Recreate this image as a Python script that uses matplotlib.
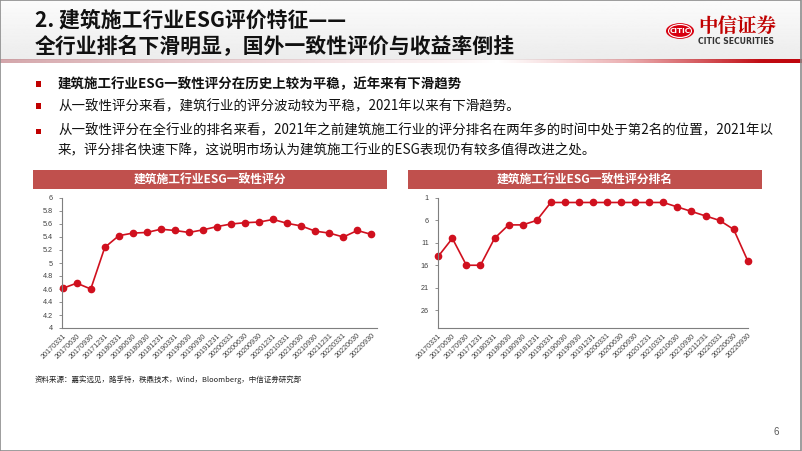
import numpy as np
import matplotlib
matplotlib.use("Agg")
import matplotlib.pyplot as plt
from matplotlib.patches import Rectangle, Circle
from matplotlib.ticker import FuncFormatter

plt.rcParams['font.family'] = ['Noto Sans CJK SC', 'DejaVu Sans']

# ==========================================================
# DATA
# ==========================================================

dates = [
    "20170331", "20170630", "20170930", "20171231",
    "20180331", "20180630", "20180930", "20181231",
    "20190331", "20190630", "20190930", "20191231",
    "20200331", "20200630", "20200930", "20201231",
    "20210331", "20210630", "20210930", "20211231",
    "20220331", "20220630", "20220930",
]

score = [
    4.61, 4.69, 4.60, 5.24,
    5.42, 5.46, 5.47, 5.52,
    5.50, 5.47, 5.51, 5.56,
    5.60, 5.62, 5.63, 5.67,
    5.61, 5.57, 5.49, 5.46,
    5.40, 5.50, 5.44,
]

rank = [
    14, 10, 16, 16,
    10, 7, 7, 6,
    2, 2, 2, 2,
    2, 2, 2, 2,
    2, 3, 4, 5,
    6, 8, 15,
]

score_ticks = [4.0, 4.2, 4.4, 4.6, 4.8, 5.0, 5.2, 5.4, 5.6, 5.8, 6.0]
rank_ticks = [1, 6, 11, 16, 21, 26]

title_1 = "2. 建筑施工行业ESG评价特征——"
title_2 = "全行业排名下滑明显，国外一致性评价与收益率倒挂"

bullets = [
    ("建筑施工行业ESG一致性评分在历史上较为平稳，近年来有下滑趋势", True),
    ("从一致性评分来看，建筑行业的评分波动较为平稳，2021年以来有下滑趋势。", False),
    ("从一致性评分在全行业的排名来看，2021年之前建筑施工行业的评分排名在两年多的时间中处于第2名的位置，2021年以\n"
     "来，评分排名快速下降，这说明市场认为建筑施工行业的ESG表现仍有较多值得改进之处。", False),
]

chart_titles = ["建筑施工行业ESG一致性评分", "建筑施工行业ESG一致性评分排名"]

source = "资料来源：嘉实远见，路孚特，秩鼎技术，Wind，Bloomberg，中信证券研究部"

# ==========================================================
# FIGURE
# ==========================================================

W, H = 802, 451
fig = plt.figure(figsize=(W / 100, H / 100), dpi=100)


def fx(x):
    return x / W


def fy(y):
    return 1 - y / H


RED = "#d0101e"
BAR = "#c0504d"

# ----------------------------------------------------------
# header background + gradient line
# ----------------------------------------------------------

ax_bg = fig.add_axes([0, fy(60), 1, 60 / H], zorder=0)
grad = np.linspace(0.985, 0.925, 64).reshape(-1, 1)
ax_bg.imshow(np.repeat(grad, 2, axis=1), cmap="gray", vmin=0, vmax=1,
             aspect="auto", extent=[0, 1, 0, 1], origin="upper")
ax_bg.axis("off")

ax_ln = fig.add_axes([0, fy(63), 1, 3.5 / H], zorder=1)
xs = np.linspace(0, 1, 400)
alpha = np.interp(xs, [0, 0.5, 0.62, 0.78, 0.95, 1], [0.6, 0.15, 0.0, 0.35, 1.0, 1.0])
r = np.interp(xs, [0, 0.5, 0.62, 1], [0.72, 0.85, 0.8, 0.75])
g = np.interp(xs, [0, 0.5, 0.62, 1], [0.42, 0.55, 0.2, 0.02])
b = np.interp(xs, [0, 0.5, 0.62, 1], [0.45, 0.58, 0.22, 0.05])
rgba = np.stack([r, g, b, alpha], axis=1)[None, :, :]
ax_ln.imshow(rgba, aspect="auto", extent=[0, 1, 0, 1])
ax_ln.axis("off")

fig.text(fx(35), fy(20), title_1, fontsize=15, fontweight="bold",
         va="center", ha="left", color="#111111")
fig.text(fx(35), fy(47), title_2, fontsize=15, fontweight="bold",
         va="center", ha="left", color="#111111")

# logo
fig.patches.append(Circle((fx(680), fy(31)), 14 / W, transform=fig.transFigure,
                          facecolor="#d7000f", edgecolor="none", zorder=3))
fig.patches.append(Circle((fx(680), fy(31)), 11.5 / W, transform=fig.transFigure,
                          facecolor="none", edgecolor="white", lw=0.8, zorder=4))
fig.text(fx(680), fy(31), "CITIC", fontsize=5.2, fontweight="bold", color="white",
         ha="center", va="center", family=["Liberation Sans Narrow", "DejaVu Sans"], zorder=5)
fig.text(fx(698), fy(26), "中信证券", fontsize=14, fontweight="bold",
         color="#c00000", ha="left", va="center", family=["Noto Serif CJK SC", "Noto Sans CJK SC"])
fig.text(fx(698), fy(42), "CITIC SECURITIES", fontsize=5.6, fontweight="bold",
         color="#333333", ha="left", va="center", family=["Liberation Sans Narrow", "DejaVu Sans"])

# ----------------------------------------------------------
# bullets
# ----------------------------------------------------------

bullet_y = [84, 106, 131]
for (txt, bold), y in zip(bullets, bullet_y):
    fig.patches.append(Rectangle((fx(36), fy(y + 2.5)), 5 / W, 5 / H,
                                 transform=fig.transFigure, facecolor="#c00000",
                                 edgecolor="none"))
    fig.text(fx(58), fy(y), txt, fontsize=9.7,
             fontweight="bold" if bold else "normal", color="#111111",
             ha="left", va="top" if "\n" in txt else "center",
             linespacing=1.55)

# fix third bullet position (two lines, top anchored)
fig.texts[-1].set_position((fx(58), fy(123)))

# ----------------------------------------------------------
# chart headers
# ----------------------------------------------------------

for (x0, x1), t in zip([(33, 387), (408, 762)], chart_titles):
    fig.patches.append(Rectangle((fx(x0), fy(189)), (x1 - x0) / W, 19 / H,
                                 transform=fig.transFigure, facecolor=BAR,
                                 edgecolor="none"))
    fig.text(fx((x0 + x1) / 2), fy(179.5), t, fontsize=8.5, fontweight="bold",
             color="white", ha="center", va="center")

# ----------------------------------------------------------
# charts
# ----------------------------------------------------------

x = np.arange(len(dates))


def style(ax):
    for s in ["top", "right"]:
        ax.spines[s].set_visible(False)
    for s in ["left", "bottom"]:
        ax.spines[s].set_color("#7f7f7f")
        ax.spines[s].set_linewidth(0.8)
    ax.set_xticks(x)
    ax.set_xticklabels(dates, rotation=45, ha="right", rotation_mode="anchor",
                       fontsize=5.2, family=["Liberation Sans", "DejaVu Sans"],
                       color="#404040")
    ax.tick_params(axis="x", length=0, pad=3)
    ax.tick_params(axis="y", length=2.5, width=0.6, color="#7f7f7f",
                   labelsize=5.2, labelcolor="#404040", pad=4)
    for lab in ax.get_yticklabels():
        lab.set_family(["Liberation Sans", "DejaVu Sans"])


ax1 = fig.add_axes([fx(62), fy(328), (377 - 62) / W, 130 / H])
ax1.plot(x, score, color=RED, lw=1.2, marker="o", ms=4.5,
         markerfacecolor=RED, markeredgecolor=RED, clip_on=False)
ax1.set_ylim(4, 6)
ax1.set_yticks(score_ticks)
ax1.yaxis.set_major_formatter(FuncFormatter(lambda v, p: f"{v:g}"))
ax1.set_xlim(-0.05, 22.4)
style(ax1)

ax2 = fig.add_axes([fx(438), fy(328), (748 - 438) / W, 130 / H])
ax2.plot(x, rank, color=RED, lw=1.2, marker="o", ms=4.5,
         markerfacecolor=RED, markeredgecolor=RED, clip_on=False)
ax2.set_ylim(30, 1)
ax2.set_yticks(rank_ticks)
ax2.set_xlim(-0.02, 22.02)
style(ax2)

# ----------------------------------------------------------
# footer
# ----------------------------------------------------------

fig.text(fx(35), fy(380), source, fontsize=5.4, color="#222222",
         ha="left", va="center")
fig.text(fx(776), fy(432), "6", fontsize=7, color="#595959",
         ha="center", va="center", family=["Liberation Sans", "DejaVu Sans"])

fig.patches.append(Rectangle((0.0005, 0.001), 0.998, 0.998, transform=fig.transFigure,
                             facecolor="none", edgecolor="#8c8c8c", lw=1.2, zorder=10))

fig.savefig("out.png", dpi=100)
